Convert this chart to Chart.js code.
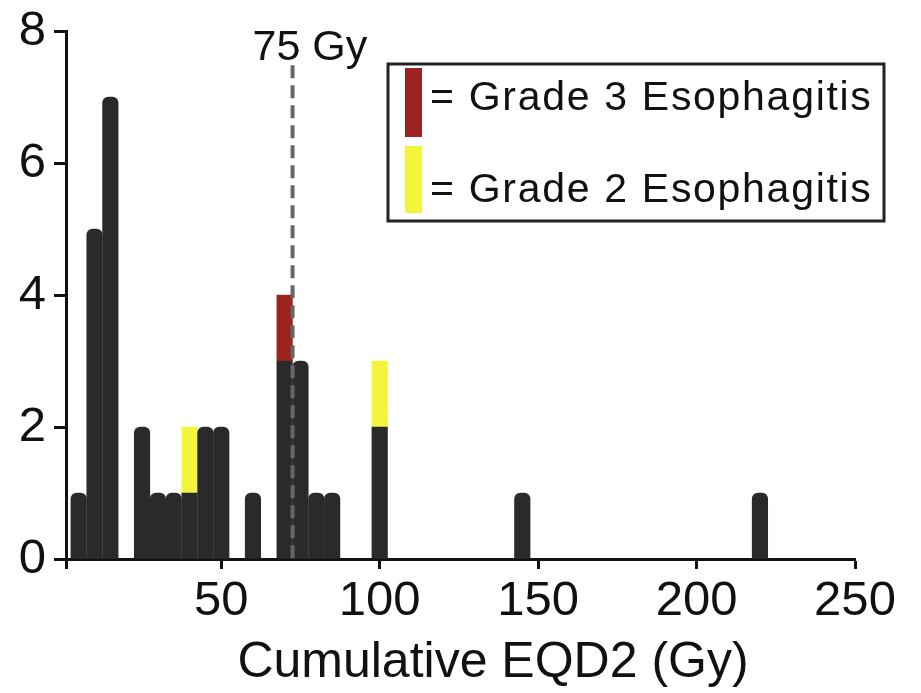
<!DOCTYPE html>
<html>
<head>
<meta charset="utf-8">
<script src="https://cdn.jsdelivr.net/npm/chart.js@4.4.1/dist/chart.umd.min.js"></script>
<style>
  body { margin: 0; background: #fff; }
  canvas { display: block; }
</style>
</head>
<body>
<canvas id="chart_EQD2" width="921" height="693"></canvas>
<script>
  // cumulative EQD2 bins (Gy) and patient counts per bin
  const doseBins = [5, 10, 15, 25, 30, 35, 40, 45, 50, 60, 70, 75, 80, 85, 100, 145, 220];
  const noToxicity = [1, 5, 7, 2, 1, 1, 1, 2, 2, 1, 3, 3, 1, 1, 2, 1, 1];
  const grade2 = [0, 0, 0, 0, 0, 0, 1, 0, 0, 0, 0, 0, 0, 0, 1, 0, 0];
  const grade3 = [0, 0, 0, 0, 0, 0, 0, 0, 0, 0, 1, 0, 0, 0, 0, 0, 0];
  const xTicks = [50, 100, 150, 200, 250];
  const yTicks = [0, 2, 4, 6, 8];
  const thresholdDose = 72.5;   // dashed line, labelled "75 Gy"

  const FONT = "'Liberation Sans', Arial, sans-serif";
  const INK = '#111';

  // skip empty bins so no zero-height slivers get drawn
  function points(counts) {
    return doseBins.map((d, i) => ({ x: d, y: counts[i] })).filter(p => p.y > 0);
  }

  // dashed threshold line + label
  const thresholdLine = {
    id: 'thresholdLine',
    afterDatasetsDraw(chart) {
      const { ctx, scales } = chart;
      const x = scales.x.getPixelForValue(thresholdDose);
      ctx.save();
      ctx.strokeStyle = '#666';
      ctx.lineWidth = 4;
      ctx.setLineDash([13, 7]);
      ctx.beginPath();
      ctx.moveTo(x, scales.y.getPixelForValue(7.48));
      ctx.lineTo(x, scales.y.getPixelForValue(0));
      ctx.stroke();
      ctx.setLineDash([]);
      ctx.fillStyle = INK;
      ctx.font = '43px ' + FONT;
      ctx.textAlign = 'left';
      ctx.textBaseline = 'alphabetic';
      ctx.fillText('75 Gy', x - 40, 60);
      ctx.restore();
    }
  };

  // boxed legend in upper right + x axis title
  const extras = {
    id: 'extras',
    afterDraw(chart) {
      const ctx = chart.ctx;
      ctx.save();
      ctx.strokeStyle = '#222';
      ctx.lineWidth = 3;
      ctx.strokeRect(388, 64, 496, 157);
      ctx.fillStyle = '#9b2320';
      ctx.fillRect(405, 68, 17, 69);
      ctx.fillStyle = '#f3f53c';
      ctx.fillRect(405, 146, 17, 67);
      ctx.fillStyle = INK;
      ctx.font = '41px ' + FONT;
      ctx.letterSpacing = '1.7px';
      ctx.textAlign = 'left';
      ctx.fillText('= Grade 3 Esophagitis', 430, 110);
      ctx.fillText('= Grade 2 Esophagitis', 430, 202);
      ctx.letterSpacing = '0px';
      ctx.font = '50px ' + FONT;
      ctx.textAlign = 'center';
      ctx.fillText('Cumulative EQD2 (Gy)', 493, 677);
      ctx.restore();
    }
  };

  const ctx = document.getElementById('chart_EQD2');

  new Chart(ctx, {
    type: 'bar',
    data: {
      datasets: [
        {
          label: 'No esophagitis',
          data: points(noToxicity),
          backgroundColor: '#2a2a2a',
          borderRadius: (c) => {
            const i = doseBins.indexOf(c.raw ? c.raw.x : -1);
            return (i >= 0 && grade2[i] + grade3[i]) ? 0 : { topLeft: 6, topRight: 6 };
          },
          borderSkipped: false,
        },
        {
          label: 'Grade 2 Esophagitis',
          data: points(grade2),
          backgroundColor: '#f3f53c',
        },
        {
          label: 'Grade 3 Esophagitis',
          data: points(grade3),
          backgroundColor: '#9b2320',
        },
      ]
    },
    options: {
      responsive: false,
      animation: false,
      barThickness: 15.5,
      layout: {
        padding: { top: 31, right: 66, left: 0, bottom: 0 }
      },
      scales: {
        x: {
          type: 'linear',
          stacked: true,
          offset: false,
          min: 1,
          max: 250,
          afterBuildTicks: (scale) => {
            scale.ticks = [{ value: 1 }].concat(xTicks.map(v => ({ value: v })));
          },
          afterFit: (scale) => { scale.height = 134; },
          grid: {
            offset: false,
            drawOnChartArea: false,
            tickLength: 10,
            tickWidth: 3,
            tickColor: INK,
          },
          border: { color: INK, width: 3 },
          ticks: {
            color: INK,
            padding: 3,
            font: { family: FONT, size: 49 },
            callback: (v) => xTicks.includes(v) ? String(v) : '',
            maxRotation: 0,
            autoSkip: false,
          }
        },
        y: {
          stacked: true,
          min: 0,
          max: 8,
          afterBuildTicks: (scale) => {
            scale.ticks = yTicks.map(v => ({ value: v }));
          },
          afterFit: (scale) => {
            scale.width = 66;
            scale.paddingTop = 0;
            scale.paddingBottom = 0;
          },
          grid: {
            drawOnChartArea: false,
            tickLength: 12,
            tickWidth: 3,
            tickColor: INK,
          },
          border: { color: INK, width: 3 },
          ticks: {
            color: INK,
            padding: 8,
            font: { family: FONT, size: 49 },
          }
        }
      },
      plugins: {
        legend: { display: false },
        tooltip: { enabled: false }
      }
    },
    plugins: [thresholdLine, extras]
  });
</script>
</body>
</html>
